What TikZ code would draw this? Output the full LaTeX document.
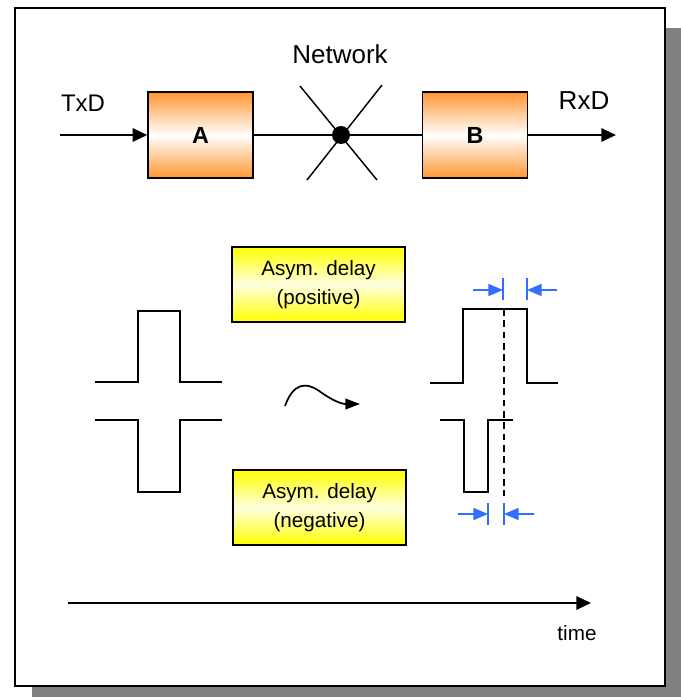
\documentclass[tikz,border=0pt]{standalone}
\usepackage{fontspec}
\setmainfont{Liberation Sans}
\usetikzlibrary{arrows.meta}
\definecolor{boxorange}{RGB}{255,150,50}
\definecolor{boxyellow}{RGB}{255,255,0}
\definecolor{markblue}{RGB}{50,110,255}
\definecolor{shadowgray}{RGB}{128,128,128}
\tikzset{
  block/.style={draw=black, line width=1.1pt, minimum width=78.75pt, minimum height=64.5pt,
    inner sep=0pt, top color=boxorange, bottom color=boxorange, middle color=white,
    font=\fontsize{17.5}{20}\selectfont\bfseries},
  delaybox/.style={draw=black, line width=1.1pt, minimum width=129.75pt, minimum height=56.25pt,
    inner sep=0pt, top color=boxyellow, bottom color=boxyellow, middle color=yellow!12,
    align=center, font=\fontsize{15.5}{21.5}\selectfont},
  lbl/.style={inner sep=0pt, font=\fontsize{18}{21}\selectfont},
  signal/.style={line width=1.5pt, line join=miter},
  flow/.style={line width=1.5pt, -{Triangle[length=11pt,width=10pt]}},
  marker/.style={draw=markblue, line width=1.3pt},
  markarrow/.style={draw=markblue, line width=1.3pt, -{Triangle[length=11pt,width=9pt]}, color=markblue}
}
\begin{document}
\begin{tikzpicture}[x=0.75pt, y=-0.75pt]
\useasboundingbox (0,0) rectangle (681,700);

% frame with drop shadow
\fill[shadowgray] (32,28) rectangle (681,697);
\draw[fill=white, line width=1.1pt] (15,8) rectangle (665,686);

% network chain
\node[block] (A) at (200.5,135) {A};
\node[block] (B) at (475,135) {B};
\node[circle, fill=black, minimum size=13.5pt, inner sep=0pt] (net) at (341,135) {};
\draw[line width=1.1pt] (300,86) -- (377,180);
\draw[line width=1.1pt] (382,85) -- (307,180);
\draw[line width=1.1pt] (A.east) -- (net) -- (B.west);
\coordinate (txin) at (60,135);
\coordinate (rxout) at (616,135);
\draw[flow] (txin) -- (A.west);
\draw[flow] (B.east) -- (rxout);
\node[lbl] (txd) at (83,103) {TxD};
\node[lbl, font=\fontsize{19.5}{22}\selectfont] (rxd) at (584,101) {RxD};
\node[lbl, font=\fontsize{19.5}{22}\selectfont] (netlbl) at (340,54) {Network};

% delay boxes
\node[delaybox] (pos) at (318.5,284.5) {Asym. delay\\(positive)};
\node[delaybox] (neg) at (319.5,507.5) {Asym. delay\\(negative)};

% transmitted pulses
\draw[signal] (95,382) -- (138,382) -- (138,311) -- (180,311) -- (180,382) -- (222,382);
\draw[signal] (95,420) -- (138,420) -- (138,492) -- (180,492) -- (180,420) -- (222,420);

% propagation
\draw[line width=1.3pt, -{Triangle[length=11pt,width=8pt]}]
  (285,406) .. controls (293,384) and (305,380) .. (322,393)
  .. controls (338,404) and (345,404) .. (360,404);

% received pulses
\draw[signal] (430,383) -- (463,383) -- (463,309) -- (527,309) -- (527,383) -- (558,383);
\draw[signal] (440,420) -- (464,420) -- (464,492) -- (488,492) -- (488,420) -- (513,420);
\draw[line width=1.3pt, dash pattern=on 5pt off 3.5pt] (504,309) -- (504,496);

% delay markers
\draw[marker] (503,278) -- (503,300);
\draw[marker] (527,278) -- (527,300);
\draw[markarrow] (473,290) -- (503,290);
\draw[markarrow] (557,290) -- (527,290);
\draw[marker] (488,503) -- (488,525);
\draw[marker] (504,503) -- (504,525);
\draw[markarrow] (458,514) -- (488,514);
\draw[markarrow] (534,514) -- (504,514);

% time axis
\coordinate (t0) at (68,603);
\coordinate (t1) at (591,603);
\draw[flow] (t0) -- (t1);
\node[lbl, font=\fontsize{15.5}{18}\selectfont] (timelbl) at (577,633) {time};
\end{tikzpicture}
\end{document}
